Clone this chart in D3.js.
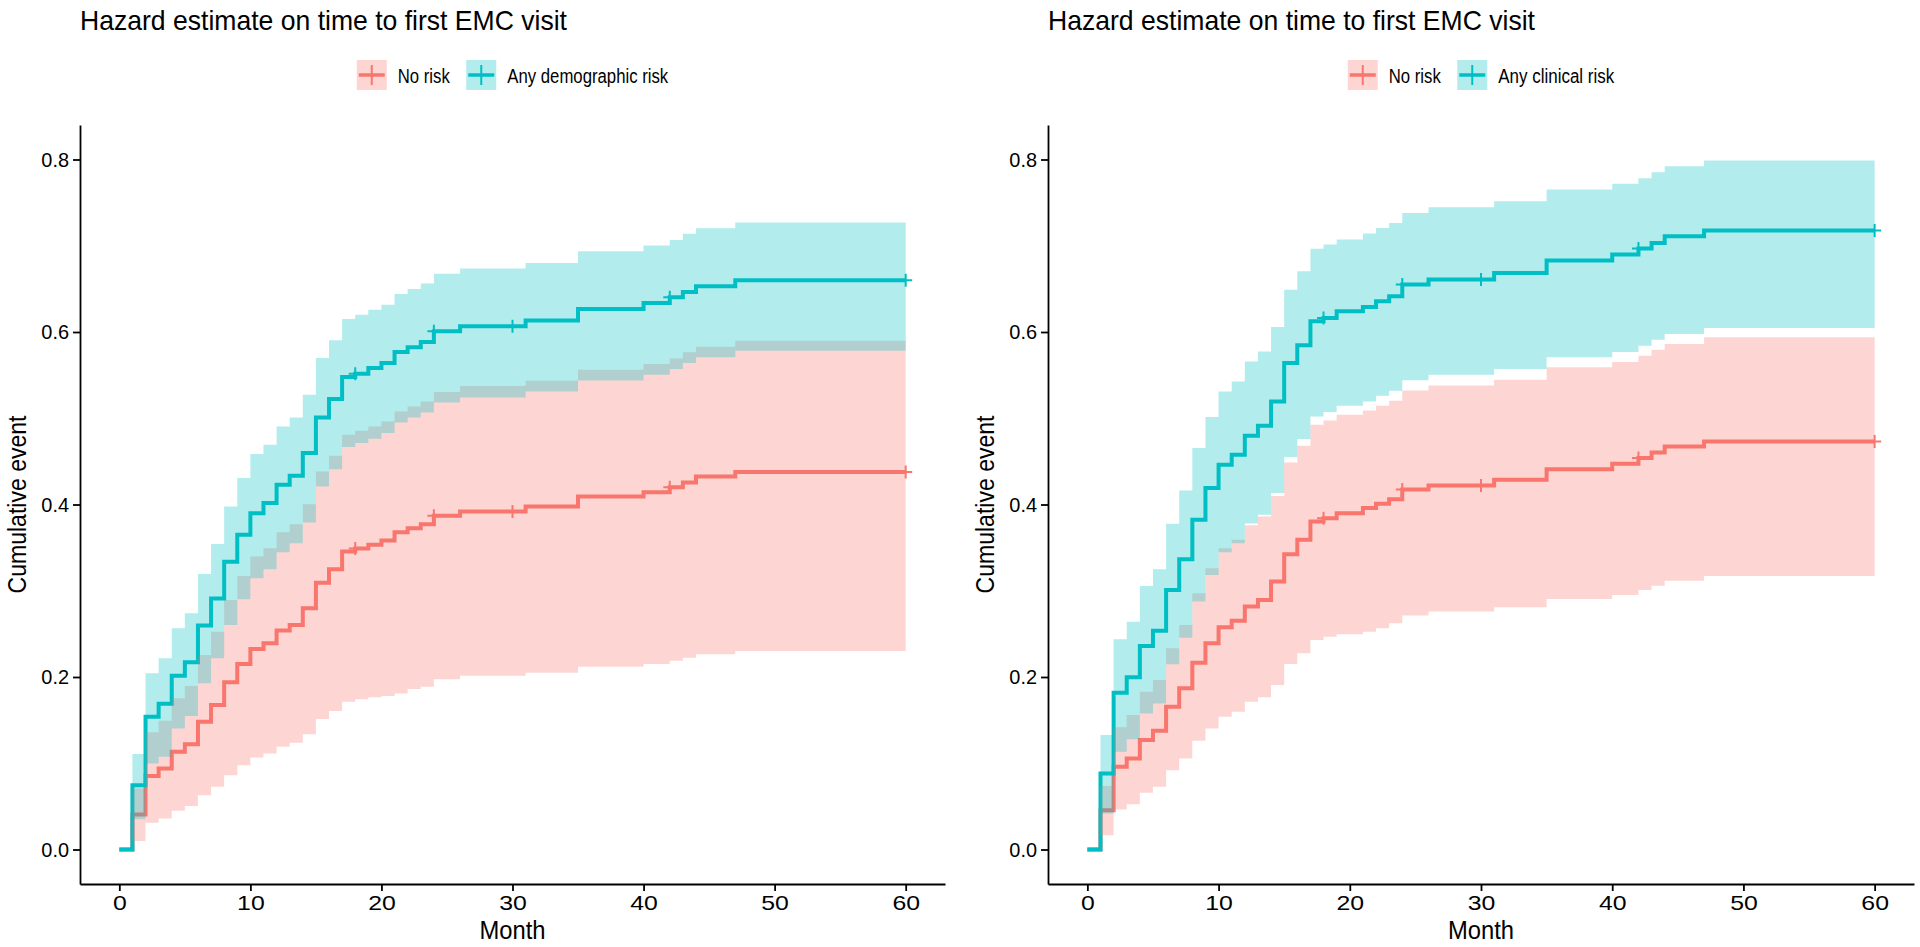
<!DOCTYPE html>
<html>
<head>
<meta charset="utf-8">
<script src="https://cdn.jsdelivr.net/npm/d3@7"></script>
<style>
  html, body { margin: 0; padding: 0; background: #ffffff; }
  svg { display: block; }
  text { font-family: "Liberation Sans Narrow", "Arial Narrow", "Liberation Sans", sans-serif; fill: #000; }
</style>
</head>
<body>
<svg id="chart" width="1920" height="947"></svg>
<script>
// ---------------- DATA ----------------
const months = [0,1,2,3,4,5,6,7,8,9,10,11,12,13,14,15,16,17,18,19,20,21,22,23,24,26,31,35,40,42,43,44,47,60];
const censorMonths = [18, 24, 30, 42, 60];
const xTicks = [0, 10, 20, 30, 40, 50, 60];
const yTicks = [0, 0.2, 0.4, 0.6, 0.8];
const chartTitle = "Hazard estimate on time to first EMC visit";
const xLabel = "Month";
const yLabel = "Cumulative event";
const leftGroups = ["No risk", "Any demographic risk"];
const rightGroups = ["No risk", "Any clinical risk"];
const groupColors = ["#F8766D", "#00BFC4"];

// Left panel: No risk
const demoNoRiskEst   = [0,0.0406,0.0851,0.094,0.1133,0.1219,0.1481,0.1675,0.1938,0.2151,0.2325,0.2391,0.2538,0.2603,0.2797,0.3094,0.325,0.3454,0.349,0.3532,0.3582,0.3679,0.3726,0.3772,0.387,0.3918,0.3976,0.4092,0.4143,0.4201,0.4255,0.4325,0.4376,0.4376];
const demoNoRiskLower = [0,0.01,0.0309,0.036,0.0448,0.0503,0.063,0.0727,0.0862,0.0978,0.1068,0.1114,0.1191,0.1237,0.1335,0.1512,0.1605,0.1713,0.1741,0.1764,0.1779,0.181,0.186,0.1887,0.1975,0.2015,0.205,0.2119,0.2151,0.2189,0.2224,0.2263,0.2302,0.2302];
const demoNoRiskUpper = [0,0.0708,0.1358,0.1493,0.1753,0.1895,0.2255,0.2526,0.2893,0.3172,0.3396,0.3494,0.3679,0.3772,0.4004,0.4383,0.4565,0.4809,0.4855,0.4905,0.4963,0.5079,0.5137,0.5195,0.5304,0.5373,0.5435,0.5563,0.5629,0.5694,0.5764,0.583,0.59,0.59];
// Left panel: Any demographic risk
const demoRiskEst   = [0,0.0746,0.154,0.169,0.2015,0.217,0.2596,0.291,0.3335,0.365,0.39,0.4016,0.4228,0.4333,0.4596,0.501,0.5223,0.5478,0.5517,0.5583,0.564,0.5768,0.5822,0.5884,0.601,0.6066,0.6132,0.6267,0.6337,0.6402,0.6465,0.653,0.66,0.66];
const demoRiskLower = [0,0.0352,0.0998,0.1075,0.1404,0.1547,0.1927,0.2217,0.2603,0.2902,0.3145,0.325,0.3447,0.3551,0.379,0.4209,0.441,0.4666,0.4712,0.4762,0.4828,0.4951,0.5009,0.5067,0.5183,0.5241,0.5311,0.5439,0.5505,0.5571,0.564,0.5706,0.5783,0.5783];
const demoRiskUpper = [0,0.1106,0.2043,0.2217,0.2565,0.2739,0.3195,0.3543,0.3977,0.4306,0.4585,0.4693,0.4905,0.501,0.5273,0.5699,0.5903,0.6151,0.6201,0.6259,0.6317,0.6441,0.6499,0.6561,0.6675,0.6735,0.6801,0.6936,0.7002,0.7068,0.7138,0.7203,0.7269,0.7269];

// Right panel: No risk
const clinNoRiskEst   = [0,0.0456,0.0959,0.1056,0.1269,0.1377,0.1655,0.1869,0.2166,0.2391,0.2577,0.2653,0.2816,0.2893,0.3106,0.3424,0.359,0.3802,0.3841,0.39,0.39,0.3958,0.4008,0.4062,0.4175,0.422,0.4286,0.441,0.4472,0.4538,0.4603,0.4673,0.4731,0.4731];
const clinNoRiskLower = [0,0.0166,0.0464,0.0526,0.0657,0.0727,0.092,0.1056,0.126,0.1404,0.1539,0.1597,0.1713,0.1764,0.1907,0.2151,0.2275,0.2429,0.2468,0.2495,0.2495,0.2526,0.2565,0.2623,0.2714,0.2758,0.2809,0.2905,0.2951,0.301,0.3059,0.3117,0.3172,0.3172];
const clinNoRiskUpper = [0,0.0735,0.1416,0.1559,0.1829,0.1965,0.2333,0.2603,0.2971,0.3261,0.3494,0.359,0.376,0.386,0.41,0.4487,0.4681,0.4925,0.4975,0.5041,0.5041,0.509,0.5145,0.5203,0.5321,0.538,0.5447,0.559,0.5652,0.5725,0.5795,0.5861,0.5938,0.5938];
// Right panel: Any clinical risk
const clinRiskEst   = [0,0.0882,0.1818,0.1996,0.236,0.2537,0.301,0.3366,0.3822,0.419,0.446,0.4576,0.4797,0.4913,0.5195,0.564,0.5845,0.6124,0.6162,0.624,0.624,0.629,0.6356,0.6414,0.655,0.6608,0.6685,0.6828,0.6898,0.6967,0.7033,0.711,0.7176,0.7176];
const clinRiskLower = [0,0.0418,0.1133,0.1277,0.1578,0.1694,0.2147,0.2456,0.2874,0.3184,0.3447,0.3551,0.378,0.388,0.4132,0.455,0.4759,0.5021,0.5072,0.5145,0.5145,0.5195,0.5261,0.5319,0.544,0.5505,0.5571,0.5706,0.5768,0.5841,0.5911,0.5977,0.6047,0.6047];
const clinRiskUpper = [0,0.1327,0.2437,0.2642,0.3056,0.325,0.3776,0.4162,0.4654,0.5014,0.5311,0.5427,0.5659,0.5775,0.6058,0.6491,0.6704,0.6964,0.7014,0.7072,0.7072,0.7141,0.7207,0.7265,0.7381,0.7447,0.7516,0.7652,0.7718,0.7783,0.7853,0.7923,0.7989,0.7989];

// ---------------- LAYOUT ----------------
const svg = d3.select("#chart");
const plotTop = 125, plotBottom = 884;

const panels = [
  { left: 80, right: 945, groups: leftGroups, legendWidths: [52, 161],
    series: [
      { est: demoNoRiskEst, lower: demoNoRiskLower, upper: demoNoRiskUpper, color: groupColors[0] },
      { est: demoRiskEst, lower: demoRiskLower, upper: demoRiskUpper, color: groupColors[1] }
    ] },
  { left: 1048, right: 1914, groups: rightGroups, legendWidths: [52, 116],
    series: [
      { est: clinNoRiskEst, lower: clinNoRiskLower, upper: clinNoRiskUpper, color: groupColors[0] },
      { est: clinRiskEst, lower: clinRiskLower, upper: clinRiskUpper, color: groupColors[1] }
    ] }
];

function stepValue(arr, t) {
  let v = arr[0];
  months.forEach((m, i) => { if (m <= t) v = arr[i]; });
  return v;
}

const plusShape = "M-6.5,0H6.5M0,-6.5V6.5";

function fitText(sel, width) {
  sel.attr("textLength", width).attr("lengthAdjust", "spacingAndGlyphs");
}

function drawPanel(p) {
  const x = d3.scaleLinear().domain([-3, 63]).range([p.left, p.right]);
  const y = d3.scaleLinear().domain([-0.04, 0.84]).range([plotBottom, plotTop]);
  const g = svg.append("g");

  const line = d3.line().x((d, i) => x(months[i])).y(d => y(d)).curve(d3.curveStepAfter);
  const area = d3.area().x((d, i) => x(months[i])).y0(d => y(d[0])).y1(d => y(d[1])).curve(d3.curveStepAfter);

  // step lines
  p.series.forEach(s => {
    g.append("path").attr("d", line(s.est)).attr("fill", "none")
      .attr("stroke", s.color).attr("stroke-width", 4);
  });
  // confidence ribbons
  p.series.forEach(s => {
    g.append("path").attr("d", area(s.lower.map((l, i) => [l, s.upper[i]])))
      .attr("fill", s.color).attr("fill-opacity", 0.3).attr("stroke", "none");
  });
  // censor marks
  p.series.forEach(s => {
    g.selectAll(null).data(censorMonths).enter().append("path")
      .attr("d", plusShape)
      .attr("transform", t => `translate(${x(t)},${y(stepValue(s.est, t))})`)
      .attr("fill", "none").attr("stroke", s.color).attr("stroke-width", 2);
  });

  // axes
  const xAxis = d3.axisBottom(x).tickValues(xTicks).tickSize(7).tickPadding(4).tickSizeOuter(0).tickFormat(d3.format("d"));
  const yAxis = d3.axisLeft(y).tickValues(yTicks).tickSize(7).tickPadding(4).tickSizeOuter(0).tickFormat(d3.format(".1f"));
  const styleAxis = a => {
    a.attr("font-size", null).attr("font-family", null);
    a.select(".domain").attr("stroke", "#000").attr("stroke-width", 1.8);
    a.selectAll(".tick line").attr("stroke", "#000").attr("stroke-width", 1.8);
    a.selectAll(".tick text").attr("fill", "#000").style("font-size", "21px");
  };
  g.append("g").attr("transform", `translate(0,${plotBottom})`).call(xAxis).call(styleAxis)
    .selectAll(".tick text").each(function () { fitText(d3.select(this), this.textContent.length * 13.8 - (this.textContent.length > 1 ? 0 : 0)); });
  g.append("g").attr("transform", `translate(${p.left},0)`).call(yAxis).call(styleAxis)
    .selectAll(".tick text").each(function () { fitText(d3.select(this), 27.7); });

  const cx = (p.left + p.right) / 2;
  const cy = (plotTop + plotBottom) / 2;

  // axis titles
  fitText(g.append("text").text(xLabel).attr("x", cx).attr("y", 939)
    .attr("text-anchor", "middle").style("font-size", "25.5px"), 66);
  fitText(g.append("text").text(yLabel)
    .attr("transform", `translate(${p.left - 54},${cy}) rotate(-90)`)
    .attr("text-anchor", "middle").style("font-size", "25.5px"), 178);

  // title
  fitText(g.append("text").text(chartTitle).attr("x", p.left).attr("y", 29.5)
    .style("font-size", "28px"), 487);

  // legend
  const key = 30, keyGap = 11, itemGap = 16.5;
  const total = p.legendWidths.reduce((a, w) => a + key + keyGap + w, 0) + itemGap * (p.legendWidths.length - 1);
  let lx = cx - total / 2;
  const ly = 60;
  p.groups.forEach((name, i) => {
    const col = groupColors[i];
    const kg = g.append("g").attr("transform", `translate(${lx},${ly})`);
    kg.append("rect").attr("width", key).attr("height", key).attr("fill", col).attr("fill-opacity", 0.3);
    kg.append("line").attr("x1", 2).attr("x2", key - 2).attr("y1", key / 2).attr("y2", key / 2)
      .attr("stroke", col).attr("stroke-width", 3.5);
    kg.append("line").attr("x1", key / 2).attr("x2", key / 2).attr("y1", key / 2 - 10).attr("y2", key / 2 + 10)
      .attr("stroke", col).attr("stroke-width", 2);
    fitText(g.append("text").text(name).attr("x", lx + key + keyGap).attr("y", ly + 22.5)
      .style("font-size", "20px"), p.legendWidths[i]);
    lx += key + keyGap + p.legendWidths[i] + itemGap;
  });
}

panels.forEach(drawPanel);
</script>
</body>
</html>
